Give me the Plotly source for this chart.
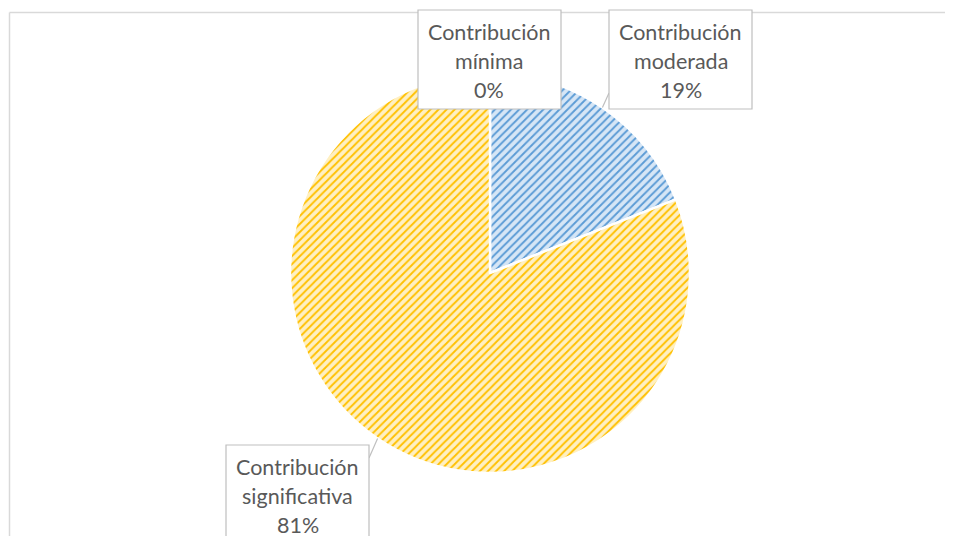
import math
import plotly.graph_objects as go

# ---- data ----
categories = ["Contribución mínima", "Contribución moderada", "Contribución significativa"]
label_lines = [["Contribución", "mínima"], ["Contribución", "moderada"], ["Contribución", "significativa"]]
values = [0, 19, 81]
pct_labels = ["0%", "19%", "81%"]

# ---- styles ----
OFF = 8  # page body margin offset
W, H = 953 - OFF, 536 - OFF
bg_colors = ["#d0d0d0", "#d6e6f6", "#fff0c2"]
fg_colors = ["#7f7f7f", "#5b9bd5", "#ffc000"]
text_color = "#595959"
box_color = "#bfbfbf"
FONT = "Lato"

def px(x):
    return (x - OFF) / W

def py(y):
    return 1 - (y - OFF) / H

# pie placement (reference pixels)
cx, cy, R = 490, 273, 200
dom_x = [px(cx - R), px(cx + R)]
dom_y = [py(cy + R), py(cy - R)]

fig = go.Figure(go.Pie(
    labels=categories,
    values=values,
    sort=False,
    direction="clockwise",
    rotation=0,
    textinfo="none",
    hoverinfo="label+percent",
    domain=dict(x=dom_x, y=dom_y),
    marker=dict(
        colors=bg_colors,
        line=dict(color="white", width=2.5),
        pattern=dict(shape="/", fgcolor=fg_colors, bgcolor=bg_colors,
                     fillmode="replace", size=5.7, solidity=0.33),
    ),
    showlegend=False,
))

shapes = []
annotations = []

# chart border (top and left visible)
shapes.append(dict(type="line", xref="paper", yref="paper", x0=px(9.5), y0=py(12.5), x1=px(960), y1=py(12.5),
                   line=dict(color="#d9d9d9", width=1.5)))
shapes.append(dict(type="line", xref="paper", yref="paper", x0=px(9.5), y0=py(12.5), x1=px(9.5), y1=py(560),
                   line=dict(color="#d9d9d9", width=1.5)))

# label boxes (left, top) in pixels, width/height
box_w, box_h = 143, 99
boxes = [(418, 10), (609, 10), (226, 445)]
box_anchor = [None, (609, 93), (369, 458)]

total = sum(values)
cum = 0
for i, v in enumerate(values):
    mid = (cum + v / 2) / total * 2 * math.pi
    cum += v
    ex = cx + R * math.sin(mid)
    ey = cy - R * math.cos(mid)
    if box_anchor[i] is not None:
        ax, ay = box_anchor[i]
        shapes.append(dict(type="line", xref="paper", yref="paper",
                           x0=px(ex), y0=py(ey), x1=px(ax), y1=py(ay),
                           line=dict(color=box_color, width=1.2)))
    bx, by = boxes[i]
    shapes.append(dict(type="rect", xref="paper", yref="paper",
                       x0=px(bx), y0=py(by), x1=px(bx + box_w), y1=py(by + box_h),
                       line=dict(color=box_color, width=1.2), fillcolor="white", layer="above"))
    lines = label_lines[i] + [pct_labels[i]]
    for j, t in enumerate(lines):
        annotations.append(dict(x=px(bx + box_w / 2), y=py(by + 22 + 29 * j), xref="paper", yref="paper",
                                text=t, showarrow=False, xanchor="center", yanchor="middle",
                                font=dict(family=FONT, size=21.5, color=text_color)))

fig.update_layout(
    width=W, height=H,
    margin=dict(l=0, r=0, t=0, b=0),
    paper_bgcolor="white",
    plot_bgcolor="white",
    shapes=shapes,
    annotations=annotations,
)

fig.write_html("out.html")
